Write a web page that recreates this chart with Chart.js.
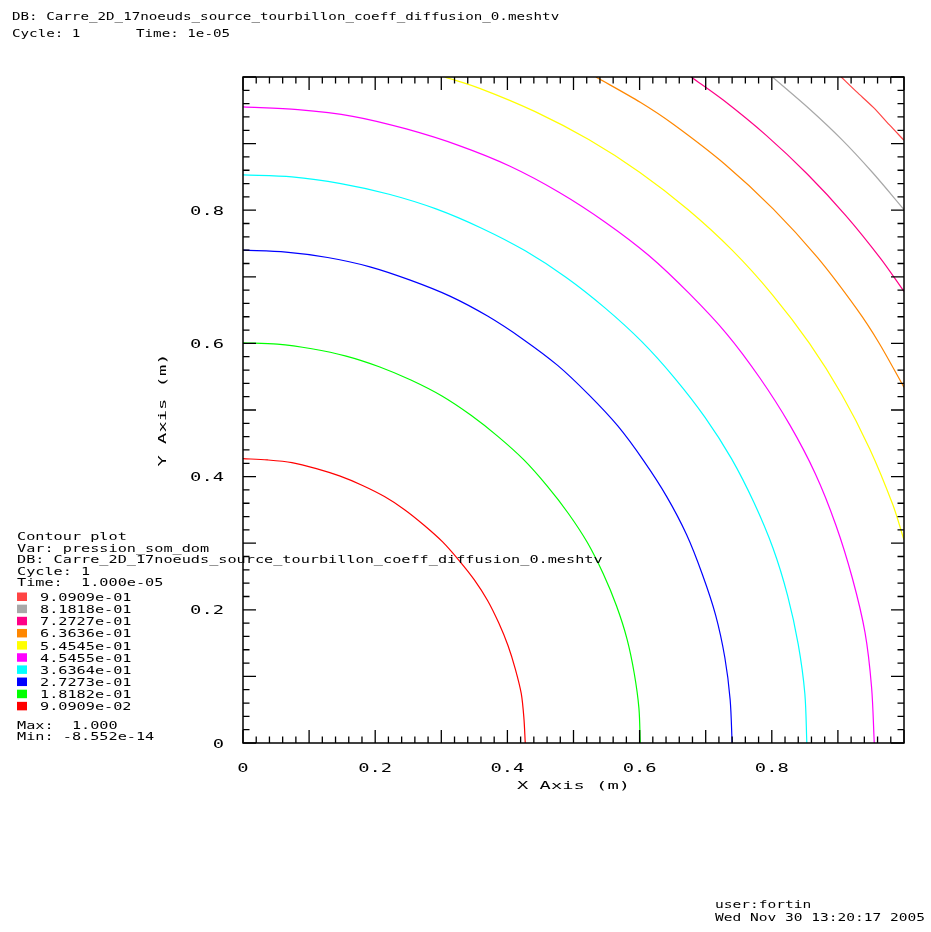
<!DOCTYPE html>
<html>
<head>
<meta charset="utf-8">
<script src="https://cdn.jsdelivr.net/npm/chart.js@4/dist/chart.umd.min.js"></script>
<style>
html,body{margin:0;padding:0;background:#fff;}
canvas{display:block;}
</style>
</head>
<body>
<canvas id="c" width="931" height="932"></canvas>
<script>
// ---- Data ----
const levelLabels = ['9.0909e-01','8.1818e-01','7.2727e-01','6.3636e-01','5.4545e-01','4.5455e-01','3.6364e-01','2.7273e-01','1.8182e-01','9.0909e-02'];
const xTickValues = [0, 0.2, 0.4, 0.6, 0.8];
const xTickLabels = ['0', '0.2', '0.4', '0.6', '0.8'];
const yTickValues = [0, 0.2, 0.4, 0.6, 0.8];
const yTickLabels = ['0', '0.2', '0.4', '0.6', '0.8'];

// contour 9.0909e-02
const c1x = [0.427,0.425,0.421,0.412,0.401,0.387,0.370,0.350,0.327,0.302,0.274,0.245,0.214,0.180,0.146,0.111,0.074,0.037,0];
const c1y = [0,0.037,0.074,0.111,0.146,0.180,0.214,0.245,0.274,0.302,0.327,0.350,0.370,0.387,0.401,0.412,0.421,0.425,0.427];
// contour 1.8182e-01
const c2x = [0.601,0.599,0.592,0.581,0.565,0.545,0.521,0.492,0.460,0.425,0.386,0.345,0.301,0.254,0.206,0.156,0.104,0.052,0];
const c2y = [0,0.052,0.104,0.156,0.206,0.254,0.301,0.345,0.386,0.425,0.460,0.492,0.521,0.545,0.565,0.581,0.592,0.599,0.601];
// contour 2.7273e-01
const c3x = [0.740,0.737,0.729,0.715,0.695,0.671,0.641,0.606,0.567,0.523,0.476,0.424,0.370,0.313,0.253,0.192,0.128,0.065,0];
const c3y = [0,0.065,0.128,0.192,0.253,0.313,0.370,0.424,0.476,0.523,0.567,0.606,0.641,0.671,0.695,0.715,0.729,0.737,0.740];
// contour 3.6364e-01
const c4x = [0.853,0.850,0.840,0.824,0.802,0.773,0.739,0.699,0.653,0.603,0.548,0.489,0.427,0.361,0.292,0.221,0.148,0.074,0];
const c4y = [0,0.074,0.148,0.221,0.292,0.361,0.427,0.489,0.548,0.603,0.653,0.699,0.739,0.773,0.802,0.824,0.840,0.850,0.853];
// contour 4.5455e-01
const c5x = [0.955,0.951,0.941,0.922,0.897,0.866,0.827,0.782,0.732,0.675,0.614,0.548,0.478,0.404,0.327,0.247,0.166,0.083,0];
const c5y = [0,0.083,0.166,0.247,0.327,0.404,0.478,0.548,0.614,0.675,0.732,0.782,0.827,0.866,0.897,0.922,0.941,0.951,0.955];
// contour 5.4545e-01
const c6x = [1,0.983,0.948,0.906,0.857,0.801,0.740,0.673,0.600,0.523,0.442,0.358,0.305];
const c6y = [0.305,0.358,0.442,0.523,0.600,0.673,0.740,0.801,0.857,0.906,0.948,0.983,1];
// contour 6.3636e-01
const c7x = [1,0.962,0.929,0.869,0.802,0.729,0.651,0.601,0.534];
const c7y = [0.534,0.601,0.651,0.729,0.802,0.869,0.929,0.962,1];
// contour 7.2727e-01
const c8x = [1,0.965,0.912,0.854,0.792,0.727,0.678];
const c8y = [0.678,0.727,0.792,0.854,0.912,0.965,1];
// contour 8.1818e-01
const c9x = [1,0.952,0.906,0.857,0.801];
const c9y = [0.801,0.857,0.906,0.952,1];
// contour 9.0909e-01
const c10x = [1,0.978,0.954,0.928,0.905];
const c10y = [0.905,0.928,0.954,0.978,1];

// ---- Styles ----
const levelColors = ['#ff4444','#a8a8a8','#ff0087','#ff8700','#ffff00','#ff00ff','#00ffff','#0000ff','#00ff00','#ff0000'];
const FONT = '"DejaVu Sans Mono", "Liberation Mono", monospace';

const contours = [
  [c1x,c1y],[c2x,c2y],[c3x,c3y],[c4x,c4y],[c5x,c5y],
  [c6x,c6y],[c7x,c7y],[c8x,c8y],[c9x,c9y],[c10x,c10y]
];
const datasets = contours.map((c, i) => ({
  label: levelLabels[9 - i],
  data: c[0].map((x, k) => ({x: x, y: c[1][k]})),
  showLine: true,
  borderColor: levelColors[9 - i],
  backgroundColor: levelColors[9 - i],
  borderWidth: 1.2,
  pointRadius: 0,
  tension: 0.3,
  fill: false
}));

function txt(ctx, s, x, y, size, pitch, align) {
  ctx.save();
  ctx.font = size + 'px ' + FONT;
  const w0 = ctx.measureText('M').width;
  const sx = pitch / w0;
  const total = s.length * pitch;
  let x0 = x;
  if (align === 'center') x0 = x - total / 2;
  else if (align === 'right') x0 = x - total;
  ctx.translate(x0, y);
  ctx.scale(sx, 1);
  ctx.textBaseline = 'alphabetic';
  ctx.textAlign = 'left';
  ctx.fillStyle = '#000';
  ctx.fillText(s, 0, 0);
  ctx.restore();
}

const decor = {
  id: 'decor',
  beforeDraw(chart) {
    const ctx = chart.ctx;
    ctx.save();
    ctx.fillStyle = '#fff';
    ctx.fillRect(0, 0, chart.width, chart.height);
    ctx.restore();
  },
  afterDraw(chart) {
    const ctx = chart.ctx;
    const xs = chart.scales.x, ys = chart.scales.y;
    const a = chart.chartArea;
    ctx.save();
    ctx.strokeStyle = '#000';
    ctx.lineWidth = 1.5;
    ctx.strokeRect(a.left, a.top, a.right - a.left, a.bottom - a.top);
    ctx.lineWidth = 1.3;
    ctx.beginPath();
    for (let i = 0; i <= 50; i++) {
      const v = i / 50;
      const major = (i % 5 === 0);
      const L = major ? 13 : 6.5;
      const px = xs.getPixelForValue(v);
      const py = ys.getPixelForValue(v);
      ctx.moveTo(px, a.bottom); ctx.lineTo(px, a.bottom - L);
      ctx.moveTo(px, a.top); ctx.lineTo(px, a.top + L);
      ctx.moveTo(a.left, py); ctx.lineTo(a.left + L, py);
      ctx.moveTo(a.right, py); ctx.lineTo(a.right - L, py);
    }
    ctx.stroke();
    ctx.restore();

    // tick labels
    xTickValues.forEach((v, i) => {
      txt(ctx, xTickLabels[i], xs.getPixelForValue(v), 772, 12, 11.3, 'center');
    });
    yTickValues.forEach((v, i) => {
      txt(ctx, yTickLabels[i], 224, ys.getPixelForValue(v) + 4.5, 12, 11.3, 'right');
    });
    // axis titles
    txt(ctx, 'X Axis (m)', (a.left + a.right) / 2, 789, 11, 11.3, 'center');
    ctx.save();
    ctx.translate(166, (a.top + a.bottom) / 2);
    ctx.rotate(-Math.PI / 2);
    txt(ctx, 'Y Axis (m)', 0, 0, 11, 11.3, 'center');
    ctx.restore();

    // header
    txt(ctx, 'DB: Carre_2D_17noeuds_source_tourbillon_coeff_diffusion_0.meshtv', 12, 19.5, 10, 8.55, 'left');
    txt(ctx, 'Cycle: 1', 12, 37, 10, 8.55, 'left');
    txt(ctx, 'Time: 1e-05', 136, 37, 10, 8.55, 'left');

    // legend
    const lp = 9.15;
    txt(ctx, 'Contour plot', 17, 540, 10, lp, 'left');
    txt(ctx, 'Var: pression_som_dom', 17, 551.5, 10, lp, 'left');
    txt(ctx, 'DB: Carre_2D_17noeuds_source_tourbillon_coeff_diffusion_0.meshtv', 17, 563, 10, lp, 'left');
    txt(ctx, 'Cycle: 1', 17, 574.5, 10, lp, 'left');
    txt(ctx, 'Time:  1.000e-05', 17, 586, 10, lp, 'left');
    levelLabels.forEach((lab, i) => {
      const by = 601 + i * 12.15;
      ctx.fillStyle = levelColors[i];
      ctx.fillRect(17, by - 8.5, 10, 8.5);
      txt(ctx, lab, 40, by, 10, lp, 'left');
    });
    txt(ctx, 'Max:  1.000', 17, 728.5, 10, lp, 'left');
    txt(ctx, 'Min: -8.552e-14', 17, 739.5, 10, lp, 'left');

    // footer
    txt(ctx, 'user:fortin', 715, 908, 10, 8.75, 'left');
    txt(ctx, 'Wed Nov 30 13:20:17 2005', 715, 921, 10, 8.75, 'left');
  }
};

new Chart(document.getElementById('c'), {
  type: 'scatter',
  data: { datasets: datasets },
  options: {
    responsive: false,
    animation: false,
    devicePixelRatio: 1,
    layout: { padding: { left: 243, right: 27, top: 77, bottom: 189 } },
    scales: {
      x: { type: 'linear', min: 0, max: 1, display: false },
      y: { type: 'linear', min: 0, max: 1, display: false }
    },
    plugins: {
      legend: { display: false },
      tooltip: { enabled: false },
      title: { display: false }
    }
  },
  plugins: [decor]
});
</script>
</body>
</html>
